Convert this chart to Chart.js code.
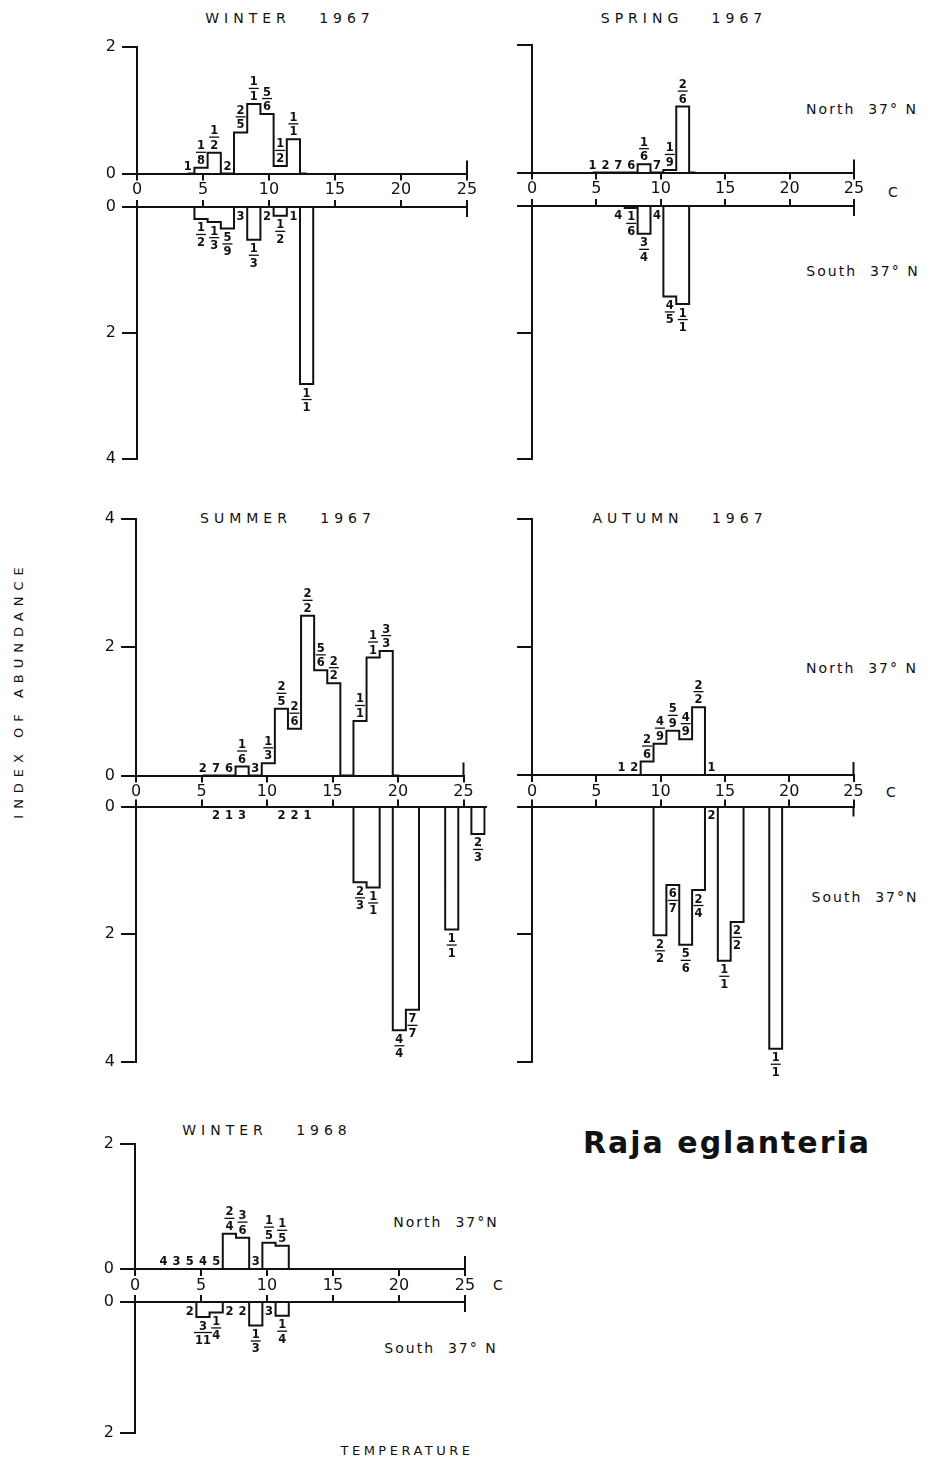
<!DOCTYPE html>
<html>
<head>
<meta charset="utf-8">
<title>Raja eglanteria - index of abundance by bottom temperature</title>
<script src="https://cdn.jsdelivr.net/npm/chart.js@4.4.1/dist/chart.umd.min.js"></script>
<style>
  html, body { margin: 0; padding: 0; background: #fff; }
  #page { position: relative; width: 930px; height: 1460px; overflow: hidden;
          font-family: 'DejaVu Sans', sans-serif; color: #111; }
  #page canvas { position: absolute; }
  .txt { position: absolute; white-space: pre; line-height: 1; transform: translate(-50%, -50%); }
  .title { font-size: 14px; letter-spacing: 5px; }
  .side { font-size: 14px; letter-spacing: 2px; }
  .unit { font-size: 14px; }
  .axis-name { font-size: 13px; letter-spacing: 6px; }
  .species { font-size: 30px; font-weight: bold; letter-spacing: 2px; }
</style>
</head>
<body>
<div id="page">
  <div class="txt title" style="left:290px; top:18px">WINTER   1967</div>
  <div class="txt title" style="left:684px; top:18px">SPRING   1967</div>
  <div class="txt title" style="left:288px; top:518px">SUMMER   1967</div>
  <div class="txt title" style="left:680px; top:518px">AUTUMN   1967</div>
  <div class="txt title" style="left:267px; top:1130px">WINTER   1968</div>

  <div class="txt side" style="left:862px; top:109px">North  37° N</div>
  <div class="txt side" style="left:863px; top:271px">South  37° N</div>
  <div class="txt unit" style="left:893px; top:192px">C</div>
  <div class="txt side" style="left:862px; top:668px">North  37° N</div>
  <div class="txt side" style="left:865px; top:897px">South  37°N</div>
  <div class="txt unit" style="left:891px; top:792px">C</div>
  <div class="txt side" style="left:446px; top:1222px">North  37°N</div>
  <div class="txt side" style="left:441px; top:1348px">South  37° N</div>
  <div class="txt unit" style="left:498px; top:1285px">C</div>

  <div class="txt axis-name" style="left:18px; top:690px; transform: translate(-50%, -50%) rotate(-90deg)">INDEX OF ABUNDANCE</div>
  <div class="txt axis-name" style="left:407px; top:1450px; font-size:13px; letter-spacing:3.5px">TEMPERATURE</div>
  <div class="txt species" style="left:727px; top:1143px">Raja eglanteria</div>
</div>
<script>
// Index of abundance per 1-degree temperature bin, north and south of 37° N.
// Counts are the station tallies printed beside each bin (fractions = with fish / total).

// Winter 1967
const w67NorthTemps = [4, 5, 6, 7, 8, 9, 10, 11, 12, 13];
const w67NorthIndex = [0, 0.09, 0.33, 0, 0.65, 1.10, 0.94, 0.12, 0.54, 0];
const w67NorthCounts = ['1', '1/8', '1/2', '2', '2/5', '1/1', '5/6', '1/2', '1/1', ''];
const w67SouthTemps = [4, 5, 6, 7, 8, 9, 10, 11, 12, 13, 14];
const w67SouthIndex = [0, 0.19, 0.24, 0.34, 0, 0.52, 0, 0.14, 0, 2.81, 0];
const w67SouthCounts = ['', '1/2', '1/3', '5/9', '3', '1/3', '2', '1/2', '1', '1/1', ''];

// Spring 1967
const springNorthTemps = [5, 6, 7, 8, 9, 10, 11, 12, 13];
const springNorthIndex = [0, 0, 0, 0, 0.13, 0, 0.04, 1.03, 0];
const springNorthCounts = ['1', '2', '7', '6', '1/6', '7', '1/9', '2/6', ''];
const springSouthTemps = [7, 8, 9, 10, 11, 12, 13];
const springSouthIndex = [0, 0.03, 0.44, 0, 1.43, 1.55, 0];
const springSouthCounts = ['4', '1/6', '3/4', '4', '4/5', '1/1', ''];

// Summer 1967
const summerNorthTemps = [5, 6, 7, 8, 9, 10, 11, 12, 13, 14, 15, 16, 17, 18, 19, 20];
const summerNorthIndex = [0, 0, 0, 0.14, 0, 0.19, 1.04, 0.73, 2.49, 1.64, 1.44, 0, 0.85, 1.84, 1.94, 0];
const summerNorthCounts = ['2', '7', '6', '1/6', '3', '1/3', '2/5', '2/6', '2/2', '5/6', '2/2', '', '1/1', '1/1', '3/3', ''];
const summerSouthTemps = [5, 6, 7, 8, 9, 10, 11, 12, 13, 14, 15, 16, 17, 18, 19, 20, 21, 22, 23, 24, 25, 26, 27];
const summerSouthIndex = [0, 0, 0, 0, 0, 0, 0, 0, 0, 0, 0, 0, 1.19, 1.27, 0, 3.51, 3.19, 0, 0, 1.93, 0, 0.43, 0];
const summerSouthCounts = ['', '2', '1', '3', '', '', '2', '2', '1', '', '', '', '2/3', '1/1', '', '4/4', '7/7', '', '', '1/1', '', '2/3', ''];

// Autumn 1967
const autumnNorthTemps = [7, 8, 9, 10, 11, 12, 13, 14];
const autumnNorthIndex = [0, 0, 0.21, 0.49, 0.69, 0.56, 1.06, 0];
const autumnNorthCounts = ['1', '2', '2/6', '4/9', '5/9', '4/9', '2/2', '1'];
const autumnSouthTemps = [9, 10, 11, 12, 13, 14, 15, 16, 17, 18, 19, 20];
const autumnSouthIndex = [0, 2.02, 1.23, 2.17, 1.31, 0, 2.42, 1.81, 0, 0, 3.80, 0];
const autumnSouthCounts = ['', '2/2', '6/7', '5/6', '2/4', '2', '1/1', '2/2', '', '', '1/1', ''];

// Winter 1968
const w68NorthTemps = [2, 3, 4, 5, 6, 7, 8, 9, 10, 11, 12];
const w68NorthIndex = [0, 0, 0, 0, 0, 0.56, 0.50, 0, 0.42, 0.37, 0];
const w68NorthCounts = ['4', '3', '5', '4', '5', '2/4', '3/6', '3', '1/5', '1/5', ''];
const w68SouthTemps = [4, 5, 6, 7, 8, 9, 10, 11, 12];
const w68SouthIndex = [0, 0.23, 0.16, 0, 0, 0.36, 0, 0.21, 0];
const w68SouthCounts = ['2', '3/11', '1/4', '2', '2', '1/3', '3', '1/4', ''];

const INK = '#111';
Chart.defaults.font.family = "'DejaVu Sans', sans-serif";
Chart.defaults.color = INK;

// area = plot rectangle [left, top, right, bottom] in page pixels
const halves = [
  { temps: w67NorthTemps, index: w67NorthIndex, counts: w67NorthCounts, south: false, area: [137, 47, 467, 173.5], yMax: 2, xMax: 25, shift: -0.15, yLabels: true, endTick: 13 },
  { temps: w67SouthTemps, index: w67SouthIndex, counts: w67SouthCounts, south: true, area: [137, 207, 467, 459], yMax: 4, xMax: 25, shift: -0.15, yLabels: true, endTick: 10 },
  { temps: springNorthTemps, index: springNorthIndex, counts: springNorthCounts, south: false, area: [532, 44.5, 854, 172.5], yMax: 2, xMax: 25, shift: -0.3, yLabels: false, endTick: 13 },
  { temps: springSouthTemps, index: springSouthIndex, counts: springSouthCounts, south: true, area: [532, 206, 854, 459], yMax: 4, xMax: 25, shift: -0.3, yLabels: false, endTick: 10 },
  { temps: summerNorthTemps, index: summerNorthIndex, counts: summerNorthCounts, south: false, area: [136, 519, 463.5, 775.5], yMax: 4, xMax: 25, shift: 0.1, yLabels: true, endTick: 13 },
  { temps: summerSouthTemps, index: summerSouthIndex, counts: summerSouthCounts, south: true, area: [136, 806.5, 485.8, 1061.5], yMax: 4, xMax: 26.7, shift: 0.1, yLabels: true, endTick: 0 },
  { temps: autumnNorthTemps, index: autumnNorthIndex, counts: autumnNorthCounts, south: false, area: [532, 519, 853.5, 775], yMax: 4, xMax: 25, shift: -0.05, yLabels: false, endTick: 13 },
  { temps: autumnSouthTemps, index: autumnSouthIndex, counts: autumnSouthCounts, south: true, area: [532, 806.5, 853.5, 1061.5], yMax: 4, xMax: 25, shift: -0.05, yLabels: false, endTick: 10 },
  { temps: w68NorthTemps, index: w68NorthIndex, counts: w68NorthCounts, south: false, area: [135, 1143.5, 465, 1269], yMax: 2, xMax: 25, shift: 0.15, yLabels: true, endTick: 13 },
  { temps: w68SouthTemps, index: w68SouthIndex, counts: w68SouthCounts, south: true, area: [135, 1302, 465, 1432.5], yMax: 2, xMax: 25, shift: 0.15, yLabels: true, endTick: 10 }
];

// stacked fraction or single tally next to each bin
function drawCount(ctx, text, x, y, south) {
  const parts = text.split('/');
  const dh = 8.5;
  ctx.save();
  ctx.fillStyle = INK;
  ctx.strokeStyle = INK;
  ctx.textAlign = 'center';
  ctx.textBaseline = 'alphabetic';
  ctx.font = "bold 11.5px 'DejaVu Sans'";
  if (parts.length === 1) {
    ctx.fillText(text, x, south ? y + 4 + dh : y - 4);
  } else {
    const h = dh * 2 + 6;
    const top = south ? y + 4 : y - 4 - h;
    const w = Math.max(ctx.measureText(parts[0]).width, ctx.measureText(parts[1]).width) + 2;
    ctx.fillText(parts[0], x, top + dh);
    ctx.lineWidth = 1.3;
    ctx.beginPath();
    ctx.moveTo(x - w / 2, top + dh + 3);
    ctx.lineTo(x + w / 2, top + dh + 3);
    ctx.stroke();
    ctx.fillText(parts[1], x, top + h);
  }
  ctx.restore();
}

const countLabels = {
  id: 'countLabels',
  afterDatasetsDraw(chart, args, opts) {
    const pts = chart.getDatasetMeta(0).data;
    opts.counts.forEach((c, i) => {
      if (c) drawCount(chart.ctx, c, pts[i].x, pts[i].y, opts.south);
    });
  }
};

// short bracket at the warm end of each temperature axis
const endTick = {
  id: 'endTick',
  afterDraw(chart, args, opts) {
    if (!opts.length) return;
    const a = chart.chartArea, ctx = chart.ctx;
    const y0 = opts.south ? a.top : a.bottom;
    ctx.save();
    ctx.strokeStyle = INK;
    ctx.lineWidth = 2;
    ctx.beginPath();
    ctx.moveTo(a.right, y0);
    ctx.lineTo(a.right, opts.south ? y0 + opts.length : y0 - opts.length);
    ctx.stroke();
    ctx.restore();
  }
};

const page = document.getElementById('page');

halves.forEach(h => {
  const [L, T, R, B] = h.area;
  const cL = Math.floor(L - 50);
  const cR = Math.ceil(R + 14);
  const cT = Math.floor(h.south ? T - 14 : T - 12);
  const cB = Math.ceil(B + 32);
  const canvas = document.createElement('canvas');
  canvas.width = cR - cL;
  canvas.height = cB - cT;
  canvas.style.left = cL + 'px';
  canvas.style.top = cT + 'px';
  page.appendChild(canvas);

  new Chart(canvas, {
    type: 'line',
    data: {
      datasets: [{
        data: h.temps.map((t, i) => ({ x: t + h.shift, y: h.index[i] })),
        stepped: 'middle',
        borderColor: INK,
        borderWidth: 2,
        pointRadius: 0,
        fill: false
      }]
    },
    options: {
      responsive: false,
      animation: false,
      layout: {
        padding: h.south
          ? { left: 0, top: 0, right: cR - R, bottom: cB - B }
          : { left: 0, top: T - cT, right: cR - R, bottom: 0 }
      },
      scales: {
        x: {
          type: 'linear',
          position: h.south ? 'top' : 'bottom',
          min: 0,
          max: h.xMax,
          ticks: { stepSize: 5, includeBounds: false, display: !h.south, font: { size: 16 }, padding: 0, maxRotation: 0, color: INK },
          grid: { drawOnChartArea: false, tickLength: 7, color: INK, lineWidth: 2 },
          border: { color: INK, width: 2 },
          afterFit: s => {
            s.height = h.south ? T - cT : cB - B;
            s.paddingLeft = s.paddingRight = s.paddingTop = s.paddingBottom = 0;
          }
        },
        y: {
          min: 0,
          max: h.yMax,
          reverse: h.south,
          ticks: { stepSize: 2, display: h.yLabels, font: { size: 16 }, padding: 6, color: INK },
          grid: { drawOnChartArea: false, tickLength: 15, color: INK, lineWidth: 2 },
          border: { color: INK, width: 2 },
          afterFit: s => {
            s.width = L - cL;
            s.paddingTop = s.paddingBottom = s.paddingLeft = s.paddingRight = 0;
          }
        }
      },
      plugins: {
        legend: { display: false },
        tooltip: { enabled: false },
        countLabels: { counts: h.counts, south: h.south },
        endTick: { length: h.endTick, south: h.south }
      }
    },
    plugins: [countLabels, endTick]
  });
});
</script>
</body>
</html>
